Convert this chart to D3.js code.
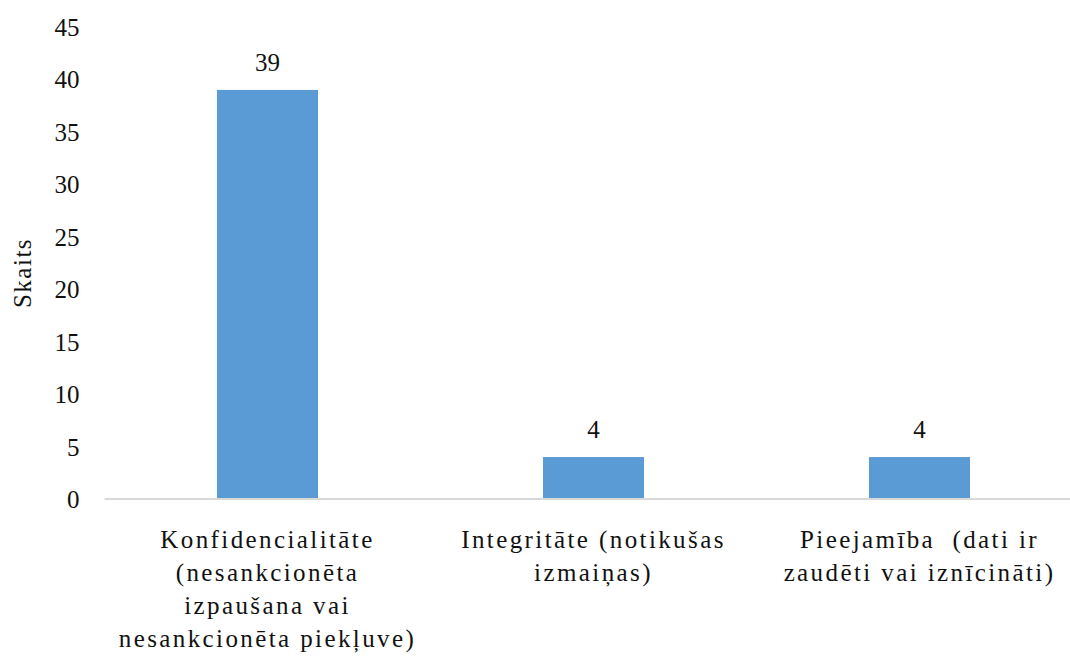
<!DOCTYPE html>
<html>
<head>
<meta charset="utf-8">
<script src="https://cdn.jsdelivr.net/npm/d3@7"></script>
<style>
  html, body { margin: 0; padding: 0; background: #fff; }
</style>
</head>
<body>
<svg id="chart" width="1070" height="664"></svg>
<script>
// chart data
var categories = [
    'Konfidencialitāte (nesankcionēta izpaušana vai nesankcionēta piekļuve)',
    'Integritāte (notikušas izmaiņas)',
    'Pieejamība  (dati ir zaudēti vai iznīcināti)'
];
// how the category names wrap in the original
var categoryLines = [
    ['Konfidencialitāte', '(nesankcionēta', 'izpaušana vai', 'nesankcionēta piekļuve)'],
    ['Integritāte (notikušas', 'izmaiņas)'],
    ['Pieejamība  (dati ir', 'zaudēti vai iznīcināti)']
];
var values = [39, 4, 4];
var yTicks = [0, 5, 10, 15, 20, 25, 30, 35, 40, 45];
var yTitle = 'Skaits';

var FONT = "'Liberation Serif', 'Times New Roman', 'DejaVu Serif', serif";

var svg = d3.select('#chart');

var margin = {left: 104.5, right: -12.5, top: 27, bottom: 165};
var width = 1070 - margin.left - margin.right,
    height = 664 - margin.top - margin.bottom;

var fontSize = 25,
    spacing = '2.4px';

var x = d3.scaleBand()
    .domain(categories)
    .range([0, width])
    .paddingInner(0.69)
    .paddingOuter(0.345);

var y = d3.scaleLinear()
    .domain([0, 45])
    .range([height, 0]);

var g = svg.append('g')
    .attr('transform', 'translate(' + margin.left + ',' + margin.top + ')');

// y tick labels, no axis line
var yAxis = g.append('g')
    .call(d3.axisLeft(y).tickValues(yTicks).tickSize(0).tickPadding(25));
yAxis.attr('font-family', FONT).attr('font-size', fontSize);
yAxis.select('.domain').remove();
yAxis.selectAll('text')
    .attr('fill', '#111')
    .attr('dy', '0.34em');

// bars
g.selectAll('.bar')
    .data(values)
    .enter()
    .append('rect')
        .attr('class', 'bar')
        .attr('x', function (d, i) { return x(categories[i]); })
        .attr('y', function (d) { return y(d); })
        .attr('width', x.bandwidth())
        .attr('height', function (d) { return y(0) - y(d); })
        .attr('fill', '#5B9BD5');

// baseline
g.append('line')
    .attr('x1', 0)
    .attr('x2', width)
    .attr('y1', y(0))
    .attr('y2', y(0))
    .attr('stroke', '#D9D9D9')
    .attr('stroke-width', 2);

// value labels
g.selectAll('.val')
    .data(values)
    .enter()
    .append('text')
        .attr('class', 'val')
        .attr('x', function (d, i) { return x(categories[i]) + x.bandwidth() / 2; })
        .attr('y', function (d) { return y(d) - 19; })
        .attr('text-anchor', 'middle')
        .attr('font-family', FONT)
        .attr('font-size', fontSize)
        .attr('fill', '#111')
        .text(function (d) { return d; });

// category labels, wrapped like the original
var cats = g.selectAll('.cat')
    .data(categories)
    .enter()
    .append('text')
        .attr('class', 'cat')
        .attr('text-anchor', 'middle')
        .attr('font-family', FONT)
        .attr('font-size', fontSize)
        .attr('fill', '#111')
        .style('letter-spacing', spacing)
        .attr('transform', function (d) {
            return 'translate(' + (x(d) + x.bandwidth() / 2) + ',' + (y(0) + 49) + ')';
        });

cats.each(function (d, i) {
    var t = d3.select(this);
    categoryLines[i].forEach(function (line, j) {
        t.append('tspan')
            .attr('x', 0)
            .attr('y', j * 33)
            .style('white-space', 'pre')
            .text(line);
    });
});

// y title
svg.append('text')
    .attr('transform', 'translate(31,273) rotate(-90)')
    .attr('text-anchor', 'middle')
    .attr('font-family', FONT)
    .attr('font-size', fontSize)
    .attr('fill', '#111')
    .style('letter-spacing', '1.5px')
    .text(yTitle);
</script>
</body>
</html>
